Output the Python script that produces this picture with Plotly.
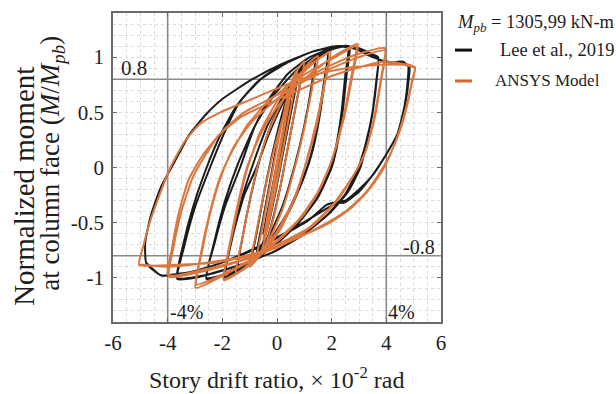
import plotly.graph_objects as go

# ---- hysteresis data: (story drift [x10^-2 rad], normalized moment M/Mpb) ----
# Lee et al., 2019 test
lee_elastic = [
    (0, 0), (0.375, 0.45), (0.15, 0.17), (-0.15, -0.2), (-0.375, -0.45),
    (-0.15, -0.16), (0.15, 0.2), (0.5, 0.6),
    (0.25, 0.28), (0.0, -0.03), (-0.25, -0.33), (-0.5, -0.6),
    (-0.25, -0.28), (0.05, 0.1), (0.35, 0.48), (0.55, 0.68), (0.75, 0.8),
    (0.55, 0.55), (0.25, 0.17), (-0.05, -0.22), (-0.35, -0.55), (-0.55, -0.7), (-0.75, -0.78),
    (-0.55, -0.52), (-0.25, -0.12), (0.05, 0.28), (0.35, 0.6), (0.65, 0.82), (0.95, 0.92),
    (0.75, 0.64), (0.45, 0.25), (0.1, -0.2), (-0.3, -0.6), (-0.65, -0.8), (-0.95, -0.88),
    (-0.75, -0.6), (-0.45, -0.2), (-0.1, 0.2), (0.3, 0.58), (0.8, 0.86), (1.4, 1.0),
    (1.25, 0.72), (1.0, 0.38), (0.65, 0.02), (0.2, -0.35), (-0.4, -0.68), (-0.9, -0.86), (-1.45, -0.95),
]
lee_2pct = [
    (-1.25, -0.62), (-0.95, -0.25), (-0.6, 0.1), (-0.2, 0.4), (0.3, 0.66), (0.9, 0.88), (1.4, 0.99), (1.85, 1.05),
    (1.75, 0.8), (1.55, 0.45), (1.3, 0.15), (1.0, -0.08), (0.5, -0.37), (-0.1, -0.62), (-0.8, -0.82), (-1.4, -0.93), (-1.9, -1.0),
    (-1.6, -0.6), (-1.2, -0.25), (-0.75, 0.0), (-0.3, 0.3), (0.15, 0.55), (0.7, 0.8), (1.3, 0.97), (1.85, 1.04),
    (1.72, 0.78), (1.5, 0.42), (1.25, 0.12), (0.95, -0.1), (0.4, -0.4), (-0.2, -0.64), (-0.9, -0.84), (-1.5, -0.94), (-1.9, -0.99),
]
lee_3pct = [
    (-1.6, -0.6), (-1.25, -0.25), (-0.85, 0.05), (-0.35, 0.38), (0.3, 0.68), (1.0, 0.9), (1.8, 1.05), (2.65, 1.1),
    (2.55, 0.85), (2.4, 0.5), (2.2, 0.2), (2.0, 0.0), (1.5, -0.27), (0.8, -0.5), (0.0, -0.69), (-1.0, -0.86), (-1.8, -0.96), (-2.58, -1.0),
    (-2.3, -0.7), (-1.9, -0.35), (-1.35, 0.0), (-0.85, 0.35), (-0.35, 0.6), (0.4, 0.85), (1.2, 1.0), (2.0, 1.08), (2.6, 1.1),
    (2.5, 0.84), (2.35, 0.48), (2.15, 0.18), (1.95, -0.02), (1.45, -0.28), (0.7, -0.52), (-0.1, -0.7), (-1.0, -0.86), (-1.9, -0.97), (-2.58, -1.01),
]
lee_4pct = [
    (-2.3, -0.68), (-1.9, -0.3), (-1.4, 0.05), (-0.8, 0.38), (-0.1, 0.66), (0.7, 0.88), (1.5, 1.02), (2.3, 1.1), (3.0, 1.08), (3.45, 1.03), (3.7, 1.0),
    (3.65, 0.8), (3.5, 0.5), (3.3, 0.25), (3.05, 0.0), (2.6, -0.22), (1.9, -0.42), (1.0, -0.6), (0.0, -0.75), (-1.2, -0.87), (-2.4, -0.96), (-3.0, -1.0), (-3.65, -1.01),
    (-3.4, -0.72), (-3.0, -0.36), (-2.45, 0.0), (-1.9, 0.33), (-1.35, 0.6), (-0.5, 0.82), (0.4, 0.96), (1.3, 1.05), (2.2, 1.1), (2.9, 1.08), (3.4, 1.02), (3.7, 0.99),
    (3.63, 0.78), (3.48, 0.48), (3.25, 0.22), (2.95, -0.02), (2.5, -0.24), (1.8, -0.44), (0.9, -0.62), (-0.1, -0.76), (-1.3, -0.88), (-2.5, -0.97), (-3.65, -1.0),
]
lee_5pct = [
    (-3.45, -0.72), (-3.1, -0.38), (-2.65, -0.05), (-2.1, 0.28), (-1.5, 0.55), (-0.7, 0.78), (0.3, 0.94), (1.3, 1.05), (2.2, 1.1),
    (2.9, 1.08), (3.4, 1.02), (3.8, 0.97), (4.2, 0.95), (4.5, 0.96), (4.7, 0.93), (4.85, 0.93),
    (4.82, 0.8), (4.7, 0.58), (4.45, 0.32), (4.0, 0.12), (3.55, -0.05), (3.0, -0.22), (2.45, -0.32), (2.2, -0.32), (1.9, -0.36),
    (1.3, -0.45), (0.4, -0.58), (-0.8, -0.73), (-2.0, -0.86), (-3.0, -0.94), (-3.8, -0.97), (-4.23, -0.98), (-4.78, -0.87),
    (-4.82, -0.68), (-4.62, -0.44), (-4.25, -0.18), (-3.75, 0.05), (-3.2, 0.3), (-2.6, 0.48), (-2.0, 0.62), (-0.9, 0.8), (0.2, 0.94),
    (1.3, 1.05), (2.2, 1.1), (2.9, 1.07), (3.5, 1.0), (4.0, 0.96), (4.4, 0.95), (4.6, 0.96), (4.8, 0.92),
    (4.78, 0.78), (4.66, 0.55), (4.4, 0.3), (3.95, 0.1), (3.5, -0.07), (3.0, -0.2), (2.5, -0.3), (2.2, -0.31), (1.8, -0.34),
    (1.2, -0.47), (0.3, -0.6), (-0.9, -0.75), (-2.1, -0.87), (-3.2, -0.95), (-4.1, -0.98), (-4.3, -0.97), (-4.8, -0.86),
]

# ANSYS finite element model
ansys_elastic = [
    (0, 0), (0.375, 0.5), (0.15, 0.2), (-0.15, -0.21), (-0.375, -0.49),
    (-0.15, -0.19), (0.15, 0.22), (0.5, 0.66),
    (0.25, 0.33), (0.0, -0.02), (-0.25, -0.35), (-0.5, -0.65),
    (-0.25, -0.31), (0.0, 0.05), (0.3, 0.46), (0.55, 0.76), (0.75, 0.87),
    (0.55, 0.6), (0.25, 0.2), (-0.05, -0.2), (-0.35, -0.55), (-0.55, -0.74), (-0.75, -0.82),
    (-0.55, -0.56), (-0.25, -0.15), (0.05, 0.25), (0.35, 0.6), (0.65, 0.85), (1.0, 0.96),
    (0.8, 0.7), (0.5, 0.32), (0.2, -0.08), (-0.15, -0.48), (-0.5, -0.75), (-1.0, -0.9),
    (-0.8, -0.64), (-0.5, -0.26), (-0.15, 0.12), (0.25, 0.48), (0.7, 0.78), (1.1, 0.93), (1.5, 1.01),
    (1.3, 0.74), (1.0, 0.36), (0.65, 0.0), (0.2, -0.38), (-0.3, -0.66), (-0.8, -0.84), (-1.5, -0.96),
]
ansys_2pct = [
    (-1.3, -0.68), (-1.0, -0.3), (-0.7, 0.02), (-0.3, 0.33), (0.2, 0.6), (0.8, 0.82), (1.4, 0.96), (1.95, 1.05),
    (1.75, 0.78), (1.45, 0.42), (1.1, 0.08), (0.7, -0.25), (0.15, -0.55), (-0.5, -0.77), (-1.2, -0.92), (-1.95, -1.02),
    (-1.75, -0.74), (-1.45, -0.38), (-1.1, -0.02), (-0.65, 0.3), (-0.1, 0.56), (0.5, 0.77), (1.2, 0.93), (1.95, 1.04),
    (1.75, 0.76), (1.45, 0.38), (1.05, 0.03), (0.6, -0.3), (0.0, -0.58), (-0.7, -0.8), (-1.3, -0.93), (-1.95, -1.01),
]
ansys_3pct = [
    (-1.75, -0.72), (-1.45, -0.35), (-1.1, 0.0), (-0.6, 0.3), (0.0, 0.55), (0.8, 0.76), (1.6, 0.92), (2.3, 1.04), (2.95, 1.12),
    (2.75, 0.82), (2.45, 0.45), (2.05, 0.1), (1.6, -0.18), (1.0, -0.42), (0.2, -0.63), (-0.8, -0.82), (-1.9, -0.97), (-2.98, -1.09),
    (-2.8, -0.8), (-2.5, -0.45), (-2.1, -0.1), (-1.7, 0.12), (-1.1, 0.38), (-0.4, 0.58), (0.5, 0.76), (1.4, 0.9), (2.2, 1.01), (2.9, 1.1),
    (2.7, 0.8), (2.4, 0.42), (2.0, 0.06), (1.5, -0.22), (0.8, -0.47), (0.0, -0.66), (-1.0, -0.84), (-2.0, -0.97), (-2.95, -1.06),
]
ansys_4pct = [
    (-2.75, -0.77), (-2.45, -0.42), (-2.05, -0.08), (-1.6, 0.18), (-0.9, 0.42), (0.0, 0.62), (1.0, 0.8), (2.0, 0.93), (3.0, 1.03), (3.95, 1.08),
    (3.8, 0.8), (3.55, 0.45), (3.25, 0.15), (2.85, -0.05), (2.2, -0.3), (1.3, -0.53), (0.2, -0.7), (-1.0, -0.82), (-2.5, -0.93), (-3.95, -0.99),
    (-3.8, -0.74), (-3.5, -0.4), (-3.1, -0.1), (-2.6, 0.12), (-2.0, 0.33), (-1.2, 0.5), (-0.2, 0.63), (0.9, 0.77), (2.0, 0.9), (3.0, 1.0), (3.95, 1.06),
    (3.8, 0.78), (3.55, 0.42), (3.2, 0.12), (2.8, -0.07), (2.1, -0.32), (1.2, -0.54), (0.0, -0.7), (-1.2, -0.83), (-2.6, -0.92), (-3.75, -0.98), (-4.0, -0.97),
]
ansys_5pct = [
    (-3.85, -0.74), (-3.6, -0.42), (-3.25, -0.12), (-2.75, 0.1), (-2.1, 0.3), (-1.3, 0.46), (-0.3, 0.58), (0.8, 0.7),
    (1.9, 0.82), (2.9, 0.9), (3.9, 0.96), (5.05, 0.91),
    (4.95, 0.8), (4.78, 0.6), (4.5, 0.35), (4.15, 0.12), (3.8, -0.05), (3.3, -0.22), (2.7, -0.37), (2.0, -0.49),
    (1.1, -0.6), (0.0, -0.72), (-1.0, -0.8), (-2.2, -0.86), (-3.5, -0.88), (-4.5, -0.89), (-5.05, -0.88),
    (-4.9, -0.72), (-4.66, -0.5), (-4.3, -0.25), (-3.9, 0.0), (-3.37, 0.24), (-2.8, 0.4), (-2.07, 0.5), (-0.92, 0.62),
    (0.23, 0.74), (1.38, 0.84), (2.53, 0.9), (3.8, 0.93), (4.6, 0.93), (5.05, 0.9),
    (4.95, 0.78), (4.76, 0.56), (4.48, 0.32), (4.1, 0.1), (3.7, -0.07), (3.2, -0.24), (2.5, -0.4), (1.7, -0.52),
    (0.8, -0.63), (-0.3, -0.74), (-1.5, -0.82), (-2.8, -0.87), (-4.0, -0.9), (-5.0, -0.88),
]

# limit lines: +/-4 % story drift, +/-0.8 Mpb
drift_limits = [-4, 4]
moment_limits = [-0.8, 0.8]

x_ticks = [-6, -4, -2, 0, 2, 4, 6]
x_tick_text = ["-6", "-4", "-2", "0", "2", "4", "6"]
y_ticks = [-1, -0.5, 0, 0.5, 1]
y_tick_text = ["-1", "-0.5", "0", "0.5", "1"]
X_RANGE = [-6, 6]
Y_RANGE = [-1.4, 1.4]

LEE_COLOR = "#1c1c1c"
ANSYS_COLOR = "#D9773F"
TEXT = "#1e1e1e"
FONT = "Liberation Serif, Times New Roman, serif"


def unzip(*parts):
    pts = [p for part in parts for p in part]
    return [p[0] for p in pts], [p[1] for p in pts]


lee_x, lee_y = unzip(lee_elastic, lee_2pct, lee_3pct, lee_4pct, lee_5pct)
ans_x, ans_y = unzip(ansys_elastic, ansys_2pct, ansys_3pct, ansys_4pct, ansys_5pct)

fig = go.Figure()

# solid grey limit lines under the curves
lim_style = dict(color="#8a8a8a", width=1.6)
for xv in drift_limits:
    fig.add_trace(go.Scatter(x=[xv, xv], y=Y_RANGE, mode="lines", line=lim_style,
                             hoverinfo="skip", showlegend=False, cliponaxis=True))
for yv in moment_limits:
    fig.add_trace(go.Scatter(x=X_RANGE, y=[yv, yv], mode="lines", line=lim_style,
                             hoverinfo="skip", showlegend=False, cliponaxis=True))

fig.add_trace(go.Scatter(x=lee_x, y=lee_y, mode="lines", name="Lee et al., 2019",
                         line=dict(color=LEE_COLOR, width=2, shape="spline", smoothing=0.5)))
fig.add_trace(go.Scatter(x=ans_x, y=ans_y, mode="lines", name="ANSYS Model",
                         line=dict(color=ANSYS_COLOR, width=2, shape="spline", smoothing=0.5)))

grid_col = "#dadada"
axis_common = dict(
    showline=True, linecolor="#6a6a6a", linewidth=1.5, mirror="ticks",
    ticks="inside", ticklen=4, tickcolor="#6a6a6a", tickwidth=1,
    showgrid=True, gridcolor=grid_col, griddash="dot", gridwidth=1,
    zeroline=False, tickfont=dict(family=FONT, size=21, color=TEXT),
)
fig.update_xaxes(range=X_RANGE, tickmode="array", tickvals=x_ticks, ticktext=x_tick_text,
                 ticklabelstandoff=1,
                 minor=dict(tick0=-6, dtick=0.5, showgrid=True, gridcolor=grid_col,
                            griddash="dot", gridwidth=1, ticks=""),
                 **axis_common)
fig.update_yaxes(range=Y_RANGE, tickmode="array", tickvals=y_ticks, ticktext=y_tick_text,
                 ticklabelstandoff=3,
                 minor=dict(tick0=0, dtick=0.1, showgrid=True, gridcolor=grid_col,
                            griddash="dot", gridwidth=1, ticks=""),
                 **axis_common)

# legend keys drawn beside the axes
shapes = [
    dict(type="line", xref="paper", yref="paper", x0=1.0427, x1=1.0945, y0=0.880, y1=0.880,
         line=dict(color="#111111", width=3)),
    dict(type="line", xref="paper", yref="paper", x0=1.0427, x1=1.0945, y0=0.780, y1=0.780,
         line=dict(color="#D2662B", width=3)),
]

ann = []
def label(text, x, y, size, xref="x", yref="y", xanchor="center", angle=0):
    ann.append(dict(text=text, x=x, y=y, xref=xref, yref=yref, xanchor=xanchor, yanchor="middle",
                    showarrow=False, textangle=angle,
                    font=dict(family=FONT, size=size, color=TEXT)))

label("0.8", -5.24, 0.9, 21)
label("-0.8", 5.2, -0.72, 20)
label("-4%", -3.3, -1.31, 20)
label("4%", 4.57, -1.31, 20)
label("Story drift ratio, × 10<sup>-2</sup> rad", 0.497, -0.182, 24, xref="paper", yref="paper")
label("Normalized moment", -0.272, 0.44, 29, xref="paper", yref="paper", angle=-90)
label("at column face (<i>M</i>/<i>M</i><sub><i>pb</i></sub>)", -0.186, 0.515, 27,
      xref="paper", yref="paper", angle=-90)
label("<i>M</i><sub><i>pb</i></sub> = 1305,99 kN-m", 1.0427, 0.9676, 18.5,
      xref="paper", yref="paper", xanchor="left")
label("Lee et al., 2019", 1.1738, 0.880, 18.5, xref="paper", yref="paper", xanchor="left")
label("ANSYS Model", 1.1585, 0.780, 17, xref="paper", yref="paper", xanchor="left")

fig.update_layout(
    width=616, height=394,
    margin=dict(l=113, r=175, t=13, b=72),
    paper_bgcolor="white", plot_bgcolor="white",
    showlegend=False,
    shapes=shapes, annotations=ann,
    font=dict(family=FONT, color=TEXT),
)

fig.write_html("out.html")
